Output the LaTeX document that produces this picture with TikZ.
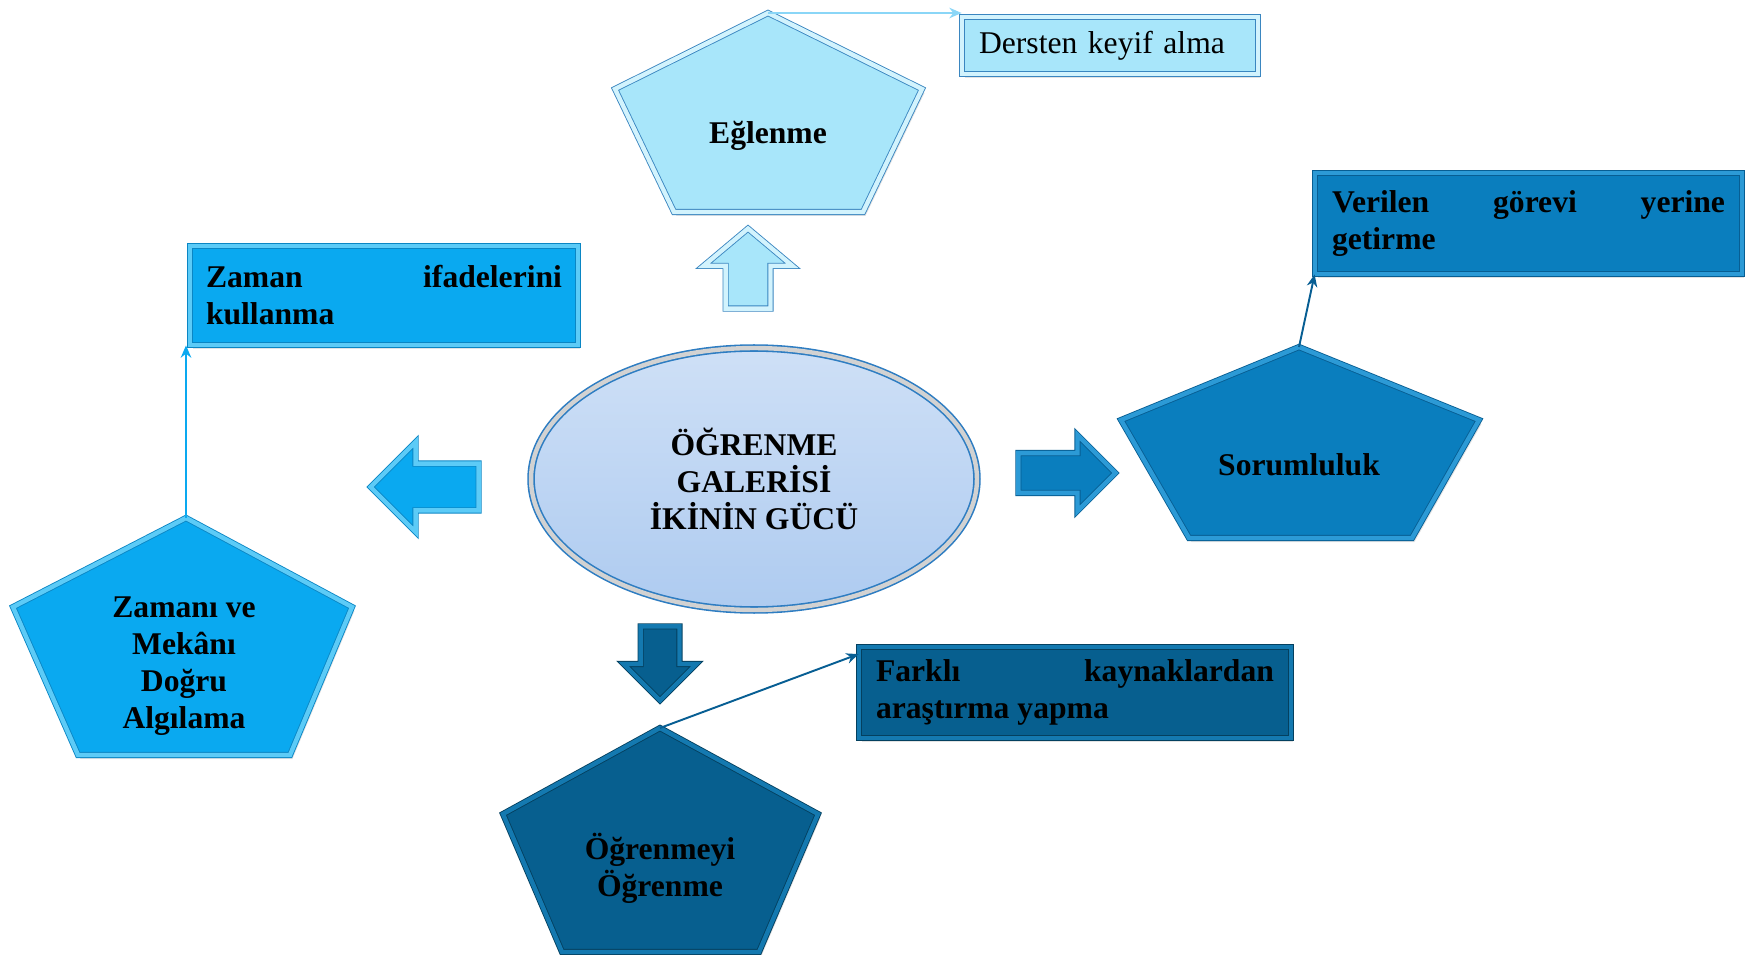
\documentclass[tikz,border=0pt]{standalone}
\usepackage{fontspec}
\setmainfont{Liberation Serif}
\usepackage{tikz}
\usetikzlibrary{arrows.meta, shapes.geometric, shapes.arrows, shadows}

\definecolor{eglfill}{HTML}{A8E6FA}
\definecolor{eglline}{HTML}{3A86C0}
\definecolor{eglbev}{HTML}{D2F3FD}
\definecolor{eglarr}{HTML}{8AD6F7}
\definecolor{zmnfill}{HTML}{0AA9F0}
\definecolor{zmnline}{HTML}{0A86C4}
\definecolor{zmnbev}{HTML}{5CCBF7}
\definecolor{srmfill}{HTML}{0A7EBE}
\definecolor{srmline}{HTML}{075E93}
\definecolor{srmbev}{HTML}{2C9AD6}
\definecolor{ogrfill}{HTML}{075F8F}
\definecolor{ogrline}{HTML}{04405F}
\definecolor{ogrbev}{HTML}{1479B0}
\definecolor{elfill}{HTML}{AECBF0}
\definecolor{elline}{HTML}{2E7DC2}

\begin{document}
\begin{tikzpicture}[
    x=0.02cm, y=-0.02cm,
    bevel/.style={line width=0.5pt, double distance=2.5pt, line join=miter},
    shade/.style={drop shadow={opacity=0.22, shadow xshift=0.05cm, shadow yshift=-0.08cm}},
    txt/.style={font=\fontsize{18}{21}\selectfont\bfseries},
    box/.style={rectangle, bevel, shade, inner sep=0pt, txt, align=justify},
    penta/.style={bevel, shade},
    pentatext/.style={txt, align=center},
    blockarrow/.style={single arrow, bevel, inner xsep=0pt, single arrow tip angle=90, anchor=tip},
    link/.style={-{Stealth[length=7pt, width=6pt]}, line width=1.1pt}
]
\useasboundingbox (0,0) rectangle (1746,955);

% Centre
\node[ellipse, line width=0.9pt, double distance=2.5pt, minimum width=8.92cm, minimum height=5.24cm, inner sep=0pt,
      draw=elline, double=gray!35, top color=elfill!60!white, bottom color=elfill,
      pentatext] (center) at (754,479) {ÖĞRENME\\GALERİSİ\\İKİNİN GÜCÜ};

% Block arrows
\node[blockarrow, rotate=90, single arrow tip angle=100, minimum height=1.6cm, inner ysep=0.44cm,
      single arrow head extend=0.44cm, fill=eglfill, draw=eglline, double=eglbev] (arr_up) at (748,228) {};
\node[blockarrow, rotate=180, minimum height=2.16cm, inner ysep=0.46cm,
      single arrow head extend=0.43cm, fill=zmnfill, draw=zmnline, double=zmnbev] (arr_left) at (370,487) {};
\node[blockarrow, minimum height=1.94cm, inner ysep=0.39cm,
      single arrow head extend=0.36cm, fill=srmfill, draw=srmline, double=srmbev] (arr_right) at (1116,473) {};
\node[blockarrow, rotate=-90, minimum height=1.48cm, inner ysep=0.38cm,
      single arrow head extend=0.34cm, fill=ogrfill, draw=ogrline, double=ogrbev] (arr_down) at (660,701) {};

% Eğlenme
\coordinate (egl_top) at (768,13);
\path[penta, fill=eglfill, draw=eglline, double=eglbev] (egl_top) -- (922,89) -- (863,212) -- (674,212) -- (615,89) -- cycle;
\node[pentatext] (egl) at (768,136) {Eğlenme};
\node[box, fill=eglfill, draw=eglline, double=eglbev, font=\fontsize{18}{21}\selectfont, align=left,
      minimum width=5.92cm, minimum height=1.14cm, text width=5.24cm] (dersten) at (1110,45.5) {Dersten keyif alma};

% Zamanı ve Mekânı Doğru Algılama
\coordinate (zmn_top) at (186,518);
\path[penta, fill=zmnfill, draw=zmnline, double=zmnbev] (zmn_top) -- (352,607) -- (290,755) -- (78,755) -- (13,607) -- cycle;
\node[pentatext] (zmn) at (184,666) {Zamanı ve\\Mekânı\\Doğru\\Algılama};
\node[box, fill=zmnfill, draw=zmnline, double=zmnbev,
      minimum width=7.76cm, minimum height=1.98cm, text width=7.12cm] (zaman) at (384,295.5) {Zaman\hfill ifadelerini\\kullanma};

% Sorumluluk
\coordinate (srm_top) at (1299,347);
\path[penta, fill=srmfill, draw=srmline, double=srmbev] (srm_top) -- (1479,420) -- (1412,538) -- (1189,538) -- (1121,420) -- cycle;
\node[pentatext] (srm) at (1299,465) {Sorumluluk};
\node[box, fill=srmfill, draw=srmline, double=srmbev,
      minimum width=8.54cm, minimum height=2.02cm, text width=7.86cm] (verilen) at (1528.5,223.5) {Verilen\hfill görevi\hfill yerine\\getirme};

% Öğrenmeyi Öğrenme
\coordinate (ogr_top) at (660,728);
\path[penta, fill=ogrfill, draw=ogrline, double=ogrbev] (ogr_top) -- (818,814) -- (759,952) -- (562,952) -- (503,814) -- cycle;
\node[pentatext] (ogr) at (660,868) {Öğrenmeyi\\Öğrenme};
\node[box, fill=ogrfill, draw=ogrline, double=ogrbev,
      minimum width=8.64cm, minimum height=1.82cm, text width=7.96cm] (farkli) at (1075,692.5) {Farklı\hfill kaynaklardan\\araştırma yapma};

% Links
\draw[link, draw=eglarr, fill=eglarr] (egl_top) -- (egl_top -| dersten.west);
\draw[link, draw=zmnfill, fill=zmnfill] (zmn_top) -- (zmn_top |- zaman.south);
\draw[link, draw=srmline, fill=srmline] (srm_top) -- (verilen.south west);
\draw[link, draw=srmline, fill=srmline] (ogr_top) -- ([yshift=-0.15cm]farkli.north west);

\end{tikzpicture}
\end{document}
